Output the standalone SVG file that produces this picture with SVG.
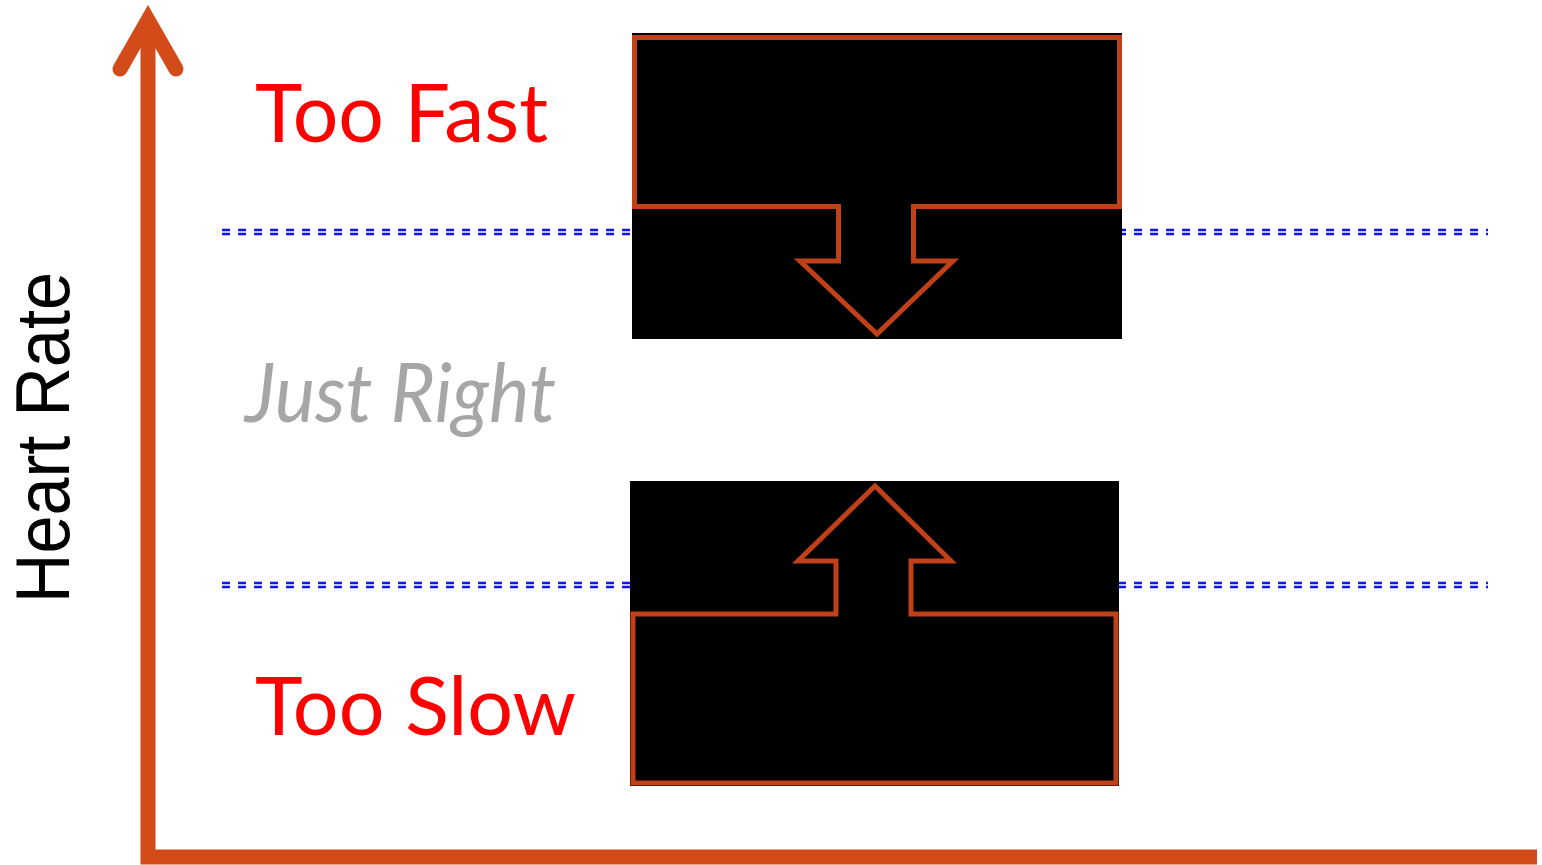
<svg xmlns="http://www.w3.org/2000/svg" width="1542" height="865" viewBox="0 0 1542 865">
  <style>
    .axis { stroke: #d24b19; stroke-width: 15; fill: none; }
    .level { stroke: #1010f0; stroke-width: 2.5; stroke-dasharray: 8 8; fill: none; }
    .panel { fill: #000000; }
    .outline { fill: none; stroke: #c04018; stroke-width: 5; stroke-linejoin: miter; }
    .zone { font-family: "Lato", "Open Sans", "Liberation Sans", sans-serif; font-size: 82px; }
    .alarm { fill: #ff0000; }
    .ok { fill: #a6a6a6; font-style: italic; }
    .ylabel { font-family: "Liberation Sans", "Lato", sans-serif; font-size: 76px; fill: #000000; }
  </style>

  <rect width="1542" height="865" fill="#ffffff"/>

  <!-- threshold lines (double dashed) -->
  <g id="thresholds">
    <path class="level" d="M222 230 H1488 M222 234 H1488"/>
    <path class="level" d="M222 583 H1488 M222 587 H1488"/>
  </g>

  <!-- axes -->
  <g id="axes">
    <path class="axis" d="M148 22 V857 H1537"/>
    <path class="axis" stroke-linecap="round" stroke-linejoin="miter" d="M120 69 L148 20 L176 69"/>
  </g>

  <!-- upper zone: push rate down -->
  <g id="node-decrease">
    <rect class="panel" x="632" y="33" width="490" height="306"/>
    <path class="outline" d="M634.5 37.5 H1119.5 V206.5 H913.5 V261 H953 L877 334 L800 261 H838.5 V206.5 H634.5 Z"/>
  </g>

  <!-- lower zone: push rate up -->
  <g id="node-increase">
    <rect class="panel" x="630" y="481" width="489" height="305"/>
    <path class="outline" d="M633 783 H1116 V614 H911 V561 H951 L875 486 L798 561 H836 V614 H633 Z"/>
  </g>

  <!-- zone labels -->
  <g id="labels">
    <text class="zone alarm" x="255" y="142" textLength="293" lengthAdjust="spacingAndGlyphs">Too Fast</text>
    <text class="zone ok" x="245" y="422" textLength="311" lengthAdjust="spacingAndGlyphs">Just Right</text>
    <text class="zone alarm" x="255" y="735" textLength="321" lengthAdjust="spacingAndGlyphs">Too Slow</text>
    <text class="ylabel" transform="translate(69 603) rotate(-90)" textLength="331" lengthAdjust="spacingAndGlyphs">Heart Rate</text>
  </g>
</svg>
